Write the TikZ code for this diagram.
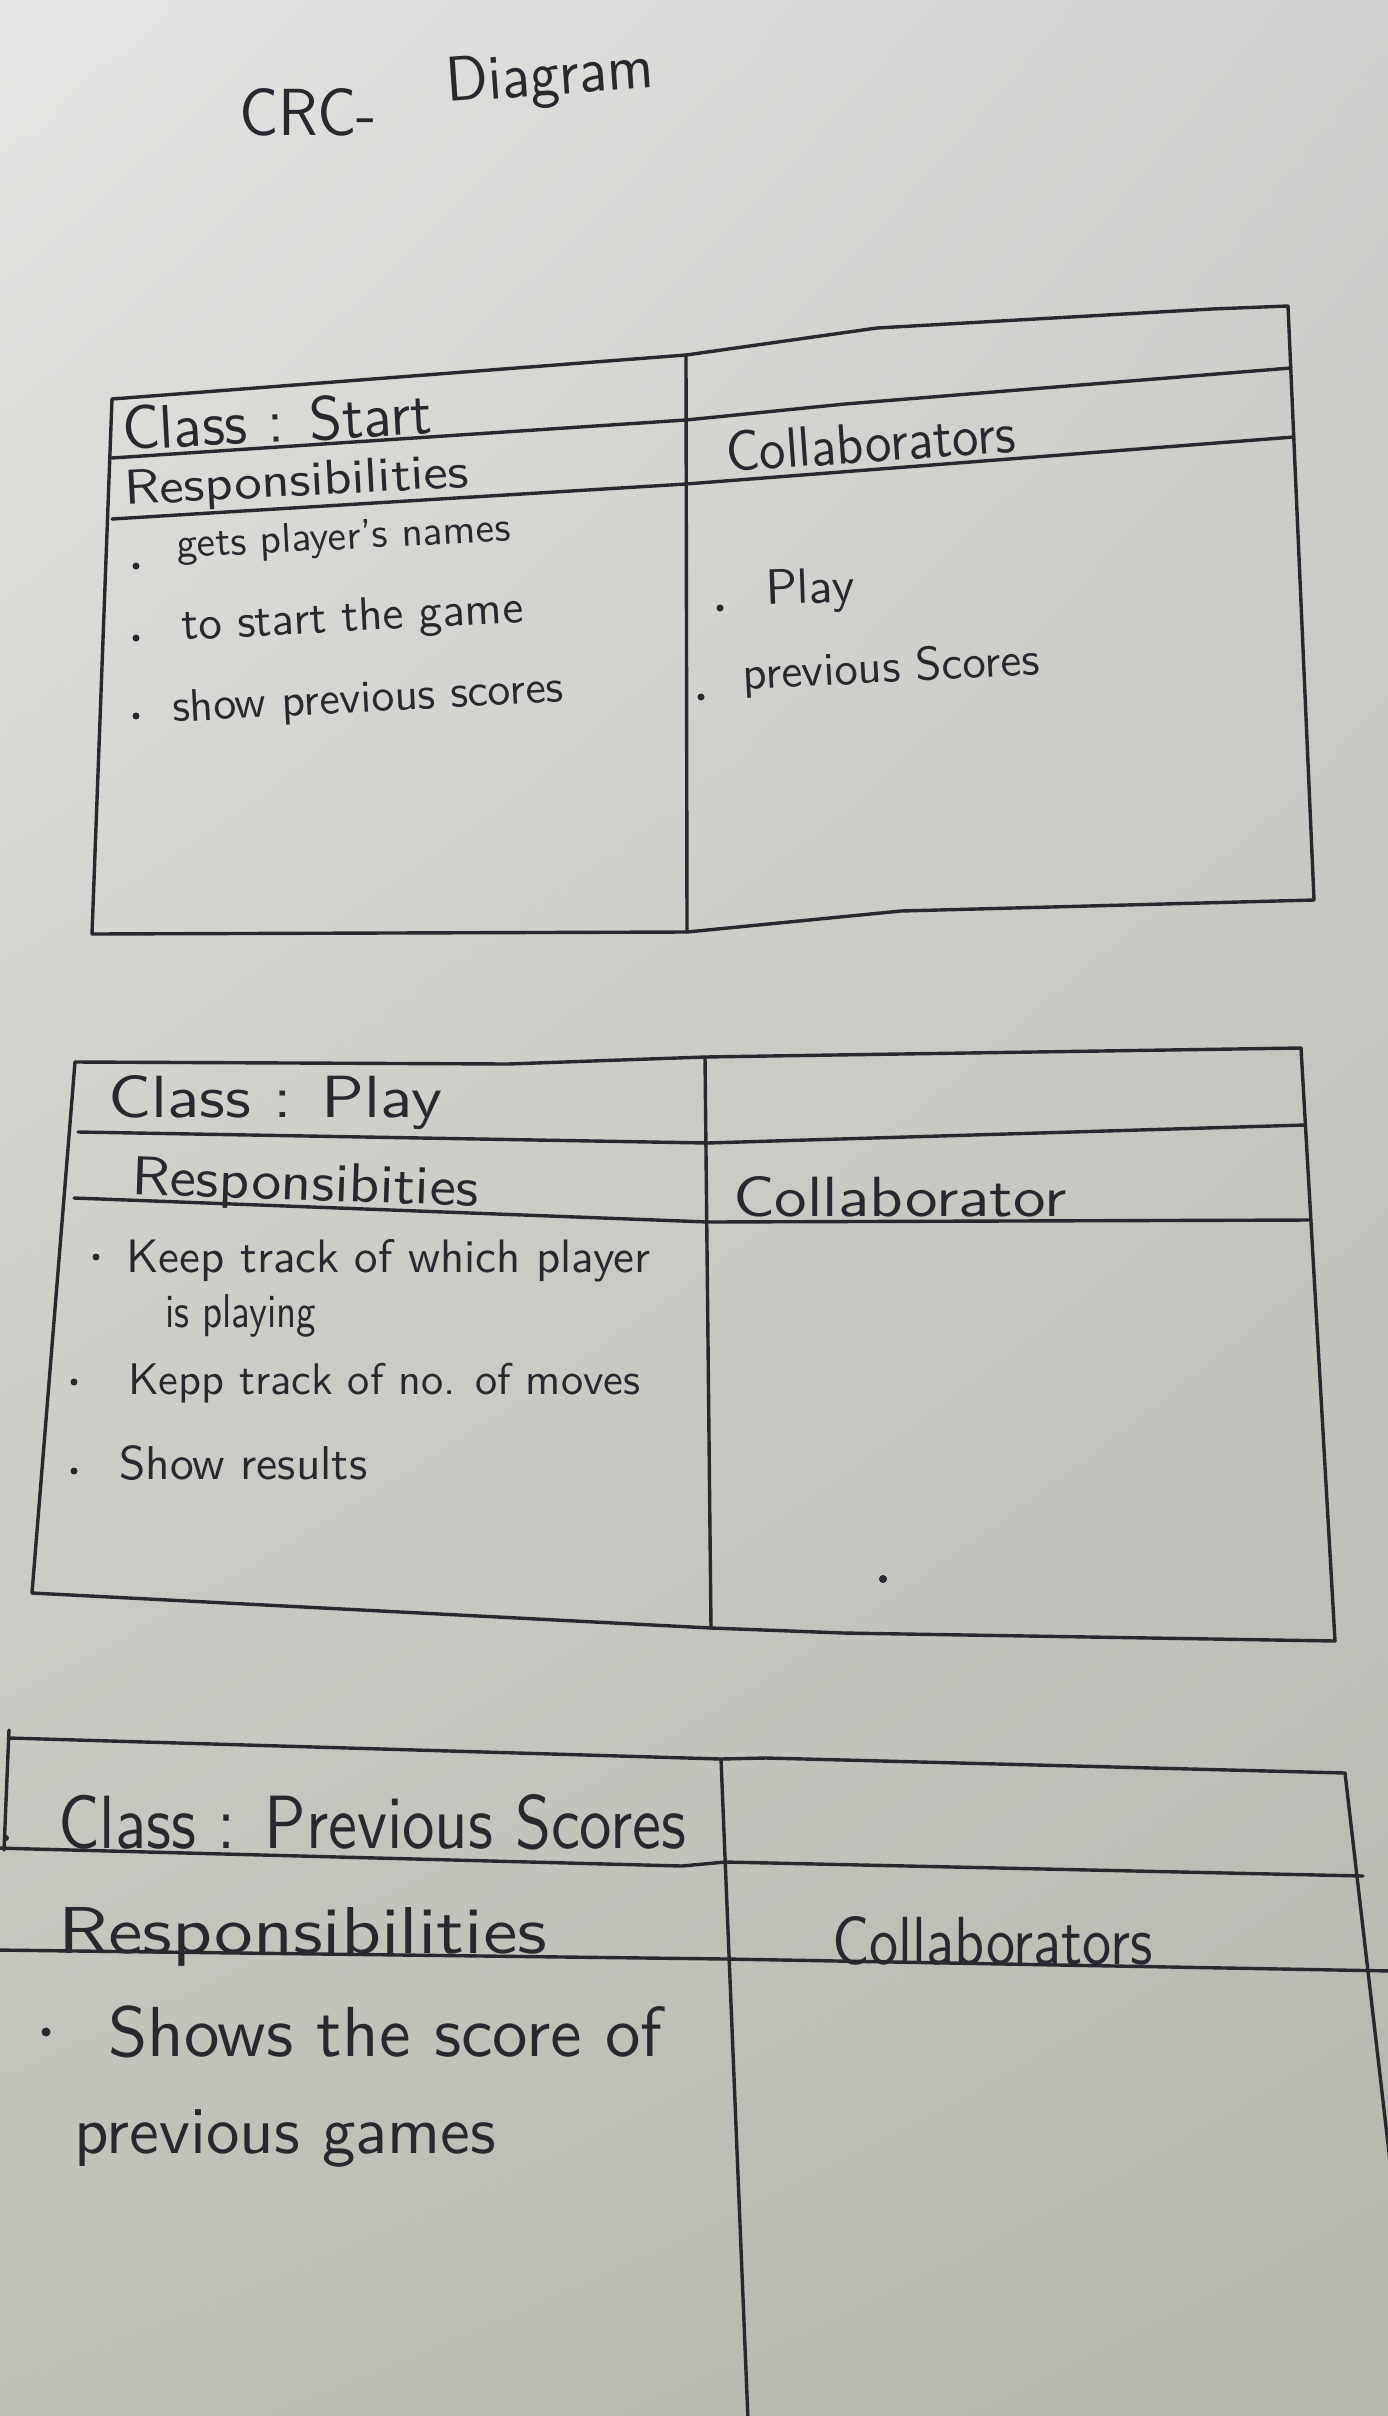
\documentclass[tikz,border=0pt]{standalone}
\usepackage{graphicx}
\usetikzlibrary{shadings}
\definecolor{paperTL}{RGB}{228,229,226}
\definecolor{paperTR}{RGB}{208,209,206}
\definecolor{paperBL}{RGB}{190,190,182}
\definecolor{paperBR}{RGB}{182,182,174}
\definecolor{ink}{RGB}{40,40,46}
% hand text: fit a phrase to a given width, optionally to a given height too
\newcommand{\hand}[2]{\resizebox{#1pt}{!}{\sffamily #2}}
\newcommand{\handh}[3]{\resizebox{#1pt}{#2pt}{\sffamily #3}}
\tikzset{
  rule/.style={draw=ink, line width=3.4pt, line cap=round, line join=round},
  txt/.style={anchor=base west, inner sep=0pt, text=ink},
  bullet/.style={circle, fill=ink, inner sep=0pt, minimum size=7pt}
}
\begin{document}
\begin{tikzpicture}[x=1pt, y=-1pt]
\useasboundingbox (0,0) rectangle (1388,2416);
\shade[upper left=paperTL, upper right=paperTR, lower left=paperBL, lower right=paperBR]
  (0,0) rectangle (1388,2416);
\begin{scope}
\clip (0,0) rectangle (1388,2416);

% title, written in two pieces climbing to the right
\node[txt] (title-a) at (239,136) {\handh{138}{47}{CRC-}};
\node[txt, rotate=4] (title-b) at (447,102) {\handh{208}{44}{Diagram}};

% ---------- card 1: Start ----------
\coordinate (s-tl) at (112,399);
\coordinate (s-tm) at (686,355);
\coordinate (s-tr) at (1288,306);
\coordinate (s-bl) at (92,934);
\coordinate (s-bm) at (687,932);
\coordinate (s-br) at (1314,900);
\draw[rule] (s-tl) -- (s-tm) -- (877,328) -- (1212,309) -- (s-tr);
\draw[rule] (s-tl) -- (s-bl);
\draw[rule] (s-tm) -- (s-bm);
\draw[rule] (s-tr) -- (s-br);
\draw[rule] (112,458) -- (686,420) -- (845,404) -- (1291,368);
\draw[rule] (112,519) -- (686,484) -- (1294,437);
\draw[rule] (s-bl) -- (s-bm) -- (901,911) -- (s-br);

\node[txt, rotate=3] (s-class) at (123,450) {\handh{310}{44}{Class : Start}};
\node[txt, rotate=3] (s-resp) at (125,505) {\handh{345}{34}{Responsibilities}};
\node[txt, rotate=4] (s-coll) at (727,472) {\handh{290}{40}{Collaborators}};
\node[bullet] (s-b1) at (136,566) {};
\node[txt, rotate=3] (s-r1) at (177,558) {\hand{334}{gets player's names}};
\node[bullet] (s-b2) at (136,638) {};
\node[txt, rotate=3] (s-r2) at (182,640) {\hand{342}{to start the game}};
\node[bullet] (s-b3) at (136,716) {};
\node[txt, rotate=3] (s-r3) at (173,722) {\hand{391}{show previous scores}};
\node[bullet] (s-b4) at (720,608) {};
\node[txt, rotate=2] (s-c1) at (766,605) {\hand{89}{Play}};
\node[bullet] (s-b5) at (701,697) {};
\node[txt, rotate=3] (s-c2) at (743,690) {\hand{297}{previous Scores}};

% ---------- card 2: Play ----------
\coordinate (p-tl) at (75,1062);
\coordinate (p-tm) at (705,1057);
\coordinate (p-tr) at (1301,1048);
\coordinate (p-bl) at (32,1593);
\coordinate (p-bm) at (711,1628);
\coordinate (p-br) at (1335,1641);
\draw[rule] (p-tl) -- (508,1064) -- (p-tm) -- (834,1055) -- (p-tr);
\draw[rule] (p-tl) -- (p-bl);
\draw[rule] (p-tm) -- (p-bm);
\draw[rule] (p-tr) -- (p-br);
\draw[rule] (78,1132) -- (707,1143) -- (1305,1125);
\draw[rule] (74,1198) -- (708,1222) -- (1311,1220);
\draw[rule] (p-bl) -- (p-bm) -- (843,1633) -- (p-br);

\node[txt] (p-class) at (108,1117) {\handh{334}{42}{Class : Play}};
\node[txt, rotate=-2] (p-resp) at (131,1194) {\handh{347}{38}{Responsibities}};
\node[txt] (p-coll) at (733,1216) {\handh{333}{40}{Collaborator}};
\node[bullet] (p-b1) at (96,1257) {};
\node[txt] (p-r1) at (126,1272) {\hand{524}{Keep track of which player}};
\node[txt] (p-r1b) at (165,1327) {\handh{151}{33}{is playing}};
\node[bullet] (p-b2) at (74,1382) {};
\node[txt] (p-r2) at (128,1394) {\hand{512}{Kepp track of no. of moves}};
\node[bullet] (p-b3) at (74,1471) {};
\node[txt] (p-r3) at (119,1479) {\hand{248}{Show results}};
\node[bullet, minimum size=8pt] (p-dot) at (883,1579) {};

% ---------- card 3: Previous Scores ----------
\coordinate (v-tl) at (9,1730);
\coordinate (v-tm) at (721,1759);
\coordinate (v-tr) at (1345,1773);
\draw[rule] (9,1738) -- (v-tm) -- (766,1758) -- (v-tr);
\draw[rule] (v-tl) -- (4,1850);
\draw[rule] (v-tm) -- (748,2420);
\draw[rule] (v-tr) -- (1391,2170);
\draw[rule] (-5,1848) -- (682,1866) -- (725,1862) -- (1363,1876);
\draw[rule] (-5,1950) -- (726,1959) -- (1392,1971);

\node[bullet, minimum size=6pt] (v-dot) at (6,1838) {};
\node[txt] (v-class) at (58,1848) {\handh{628}{54}{Class : Previous Scores}};
\node[txt] (v-resp) at (58,1953) {\handh{489}{46}{Responsibilities}};
\node[txt] (v-coll) at (832,1964) {\handh{320}{48}{Collaborators}};
\node[bullet, minimum size=9pt] (v-b1) at (46,2032) {};
\node[txt] (v-r1) at (108,2056) {\hand{554}{Shows the score of}};
\node[txt] (v-r1b) at (74,2153) {\hand{422}{previous games}};
\end{scope}
\end{tikzpicture}
\end{document}
